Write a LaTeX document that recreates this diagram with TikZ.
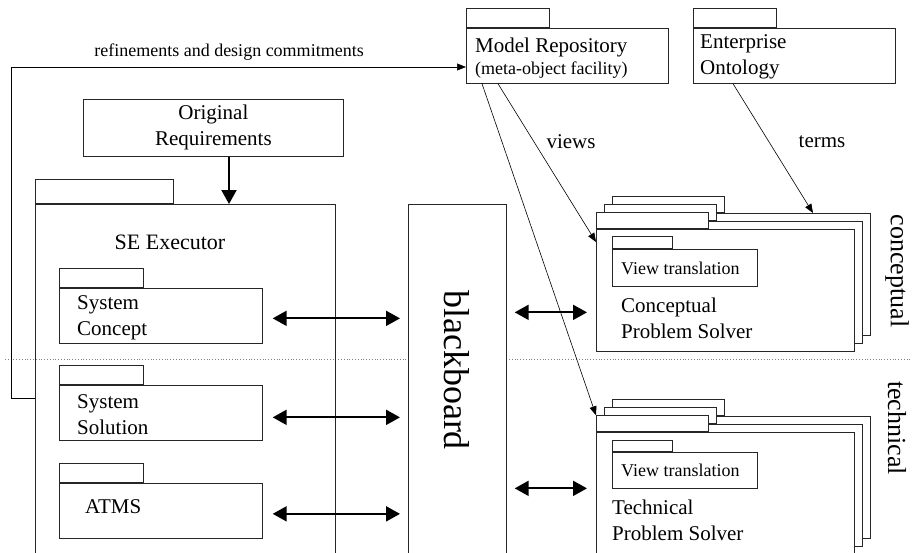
\documentclass[tikz,border=0pt]{standalone}
\usepackage{fontspec}
\setmainfont{Liberation Serif}
\usetikzlibrary{arrows.meta,calc}
\begin{document}
\begin{tikzpicture}[x=1pt, y=-1pt,
    line/.style={draw=black!85, line width=0.7pt},
    box/.style={line, fill=white, inner sep=0, anchor=north west},
    tab/.style={line, fill=white, inner sep=0, anchor=south west},
    txt/.style={inner sep=0, align=left, font=\fontsize{21}{26}\selectfont},
    smalltxt/.style={inner sep=0, font=\fontsize{18}{22}\selectfont},
    sidetxt/.style={inner sep=0, rotate=-90, font=\fontsize{26}{30}\selectfont},
    thinarrow/.style={line width=0.6pt, -{Triangle[length=9pt,width=7pt]}},
    thickarrow/.style={line width=2pt, -{Triangle[length=14pt,width=15pt]}},
    dblarrow/.style={line width=2pt, {Triangle[length=14pt,width=15pt]}-{Triangle[length=14pt,width=15pt]}}]
    \clip (0,0) rectangle (912,552);

    % conceptual / technical divider
    \draw[gray, dotted, line width=0.8pt] (5,359) -- (912,359);

    % top packages
    \node[box, minimum width=202, minimum height=55] (mr) at (466,28) {};
    \node[tab, minimum width=83, minimum height=19] (mrtab) at (mr.north west) {};
    \node[txt, anchor=west] (mrname) at (475,47) {Model Repository};
    \node[smalltxt, anchor=west] (mrsub) at (475,70) {(meta-object facility)};

    \node[box, minimum width=202, minimum height=55] (eo) at (693,28) {};
    \node[tab, minimum width=83, minimum height=19] (eotab) at (eo.north west) {};
    \node[txt, anchor=west] (eoname) at (700,56.5) {Enterprise\\Ontology};

    \node[box, minimum width=260, minimum height=57] (req) at (83,99) {};
    \node[txt, align=center] (reqname) at (req.center) {Original\\Requirements};

    % SE executor and its parts
    \node[box, fill=none, minimum width=300, minimum height=360] (se) at (35,204) {};
    \node[tab, minimum width=138, minimum height=24] (setab) at (se.north west) {};
    \node[txt, font=\fontsize{22}{26}\selectfont] (sename) at (170,242) {SE Executor};

    \foreach \name/\y in {sc/288, ss/385, atms/483} {
      \node[box, minimum width=203, minimum height=55] (\name) at (59,\y) {};
      \node[tab, minimum width=84, minimum height=19] (\name-tab) at (\name.north west) {};
    }
    \node[txt, anchor=west] (scname) at (77,317.5) {System\\Concept};
    \node[txt, anchor=west] (ssname) at (77,415) {System\\Solution};
    \node[txt, anchor=west] (atmsname) at (85,507) {ATMS};

    % blackboard
    \node[box, minimum width=98, minimum height=360] (bb) at (408,204) {};
    \node[inner sep=0, rotate=-90, font=\fontsize{36}{40}\selectfont] (bbname) at (457,370) {blackboard};

    % problem solver stacks
    \foreach \k in {2,1,0} {
      \pgfmathsetmacro\d{8*\k}
      \node[box, minimum width=258, minimum height=122] (c\k) at (596+\d,229-\d) {};
      \node[tab, minimum width=112, minimum height=16] (ctab\k) at (c\k.north west) {};
      \node[box, minimum width=258, minimum height=122] (t\k) at (596+\d,432-\d) {};
      \node[tab, minimum width=112, minimum height=16] (ttab\k) at (t\k.north west) {};
    }
    \node[box, minimum width=145, minimum height=37] (cvt) at (612,249) {};
    \node[tab, minimum width=60, minimum height=12] (cvttab) at (cvt.north west) {};
    \node[smalltxt, anchor=west] (cvtname) at (621,268) {View translation};
    \node[txt, anchor=west] (cname) at (621,318) {Conceptual\\Problem Solver};

    \node[box, minimum width=145, minimum height=36] (tvt) at (612,452) {};
    \node[tab, minimum width=60, minimum height=11] (tvttab) at (tvt.north west) {};
    \node[smalltxt, anchor=west] (tvtname) at (621,470) {View translation};
    \node[txt, anchor=west] (tname) at (612,520.5) {Technical\\Problem Solver};

    \node[sidetxt] (conclbl) at (897,271) {conceptual};
    \node[sidetxt] (techlbl) at (897,428) {technical};

    % feedback loop
    \coordinate (fbcorner) at (11,398);
    \coordinate (fbtop) at (11,67);
    \draw[thinarrow] (fbcorner -| se.west) -- (fbcorner) -- (fbtop) -- (fbtop -| mr.west);
    \node[smalltxt] (fblbl) at (229,52) {refinements and design commitments};

    % arrows
    \draw[thickarrow] (req.south -| 229,0) -- (se.north -| 229,0);
    \draw[dblarrow] ([xshift=10pt, yshift=-2.5pt]sc.east) -- ([xshift=-8pt, yshift=-2.5pt]sc.east -| bb.west);
    \draw[dblarrow] ([xshift=10pt, yshift=-4.5pt]ss.east) -- ([xshift=-8pt, yshift=-4.5pt]ss.east -| bb.west);
    \draw[dblarrow] ([xshift=10pt, yshift=-3pt]atms.east) -- ([xshift=-8pt, yshift=-3pt]atms.east -| bb.west);
    \draw[dblarrow] ([xshift=8pt, yshift=-22pt]bb.east |- c0.west) -- ([xshift=-9pt, yshift=-22pt]c0.west);
    \draw[dblarrow] ([xshift=8pt, yshift=5pt]bb.east |- t0.west) -- ([xshift=-9pt, yshift=5pt]t0.west);

    \draw[thinarrow] ($(mr.south west)+(16,0)$) -- (ttab0.north west);
    \draw[thinarrow] ($(mr.south west)+(32,0)$) -- ($(c0.north west)+(0,13)$);
    \draw[thinarrow] ($(eo.south west)+(40,0)$) -- ($(c2.north west)+(201,0)$);
    \node[txt] (viewslbl) at (571,142) {views};
    \node[txt] (termslbl) at (822,142) {terms};

  \end{tikzpicture}
\end{document}
